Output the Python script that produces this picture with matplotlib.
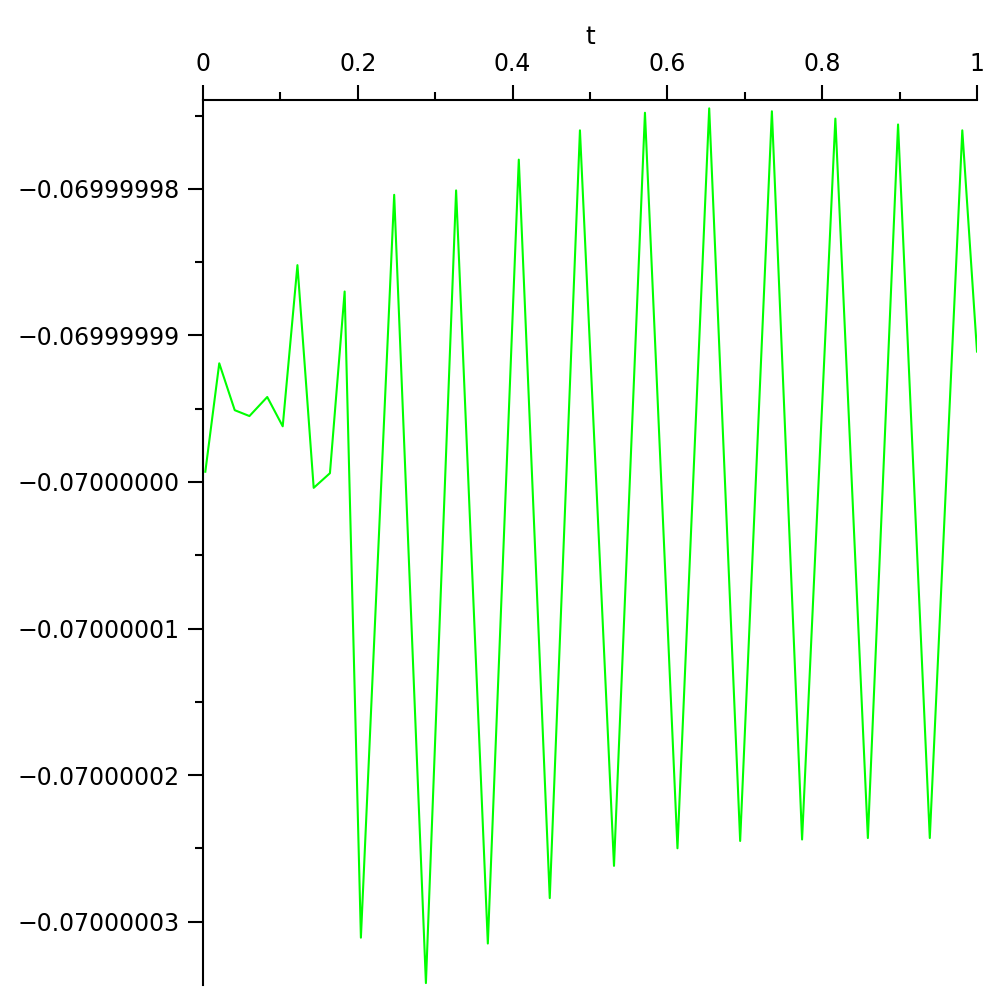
import numpy as np
import matplotlib
matplotlib.use('Agg')
import matplotlib.pyplot as plt

plt.rcParams['font.family'] = ['DejaVu Sans']

# extrema of the curve; dev is in units of 1e-8 around -0.07
t = [0.003, 0.021, 0.041, 0.060, 0.083, 0.103, 0.122, 0.143, 0.164, 0.183,
     0.204, 0.247, 0.288, 0.327, 0.368, 0.408, 0.448, 0.487, 0.531, 0.571,
     0.613, 0.654, 0.694, 0.735, 0.774, 0.817, 0.859, 0.898, 0.939, 0.981, 1.0]
dev = [0.07, 0.81, 0.49, 0.45, 0.58, 0.38, 1.48, -0.04, 0.06, 1.30,
       -3.11, 1.96, -3.42, 1.99, -3.15, 2.20, -2.84, 2.40, -2.62, 2.52,
       -2.50, 2.55, -2.45, 2.53, -2.44, 2.48, -2.43, 2.44, -2.43, 2.40, 0.89]
base = -0.07
scale = 1e-8

ytick_steps = [-3, -2, -1, 0, 1, 2]
ytick_labels = ['\u22120.07000003', '\u22120.07000002', '\u22120.07000001',
                '\u22120.07000000', '\u22120.06999999', '\u22120.06999998']
xtick_vals = [0, 0.2, 0.4, 0.6, 0.8, 1]
xtick_labels = ['0', '0.2', '0.4', '0.6', '0.8', '1']

y = base + np.array(dev) * scale

fig = plt.figure(figsize=(10, 10), dpi=100)
ax = fig.add_axes([0.203, 0.015, 0.774, 0.885])
ax.plot(t, y, color='#00ff00', linewidth=1.5)

ax.set_xlim(0, 1)
ax.set_ylim(base - 3.433 * scale, base + 2.607 * scale)

for s in ['right', 'bottom']:
    ax.spines[s].set_visible(False)
for s in ['left', 'top']:
    ax.spines[s].set_linewidth(1.5)

ax.xaxis.tick_top()
ax.xaxis.set_label_position('top')
ax.set_xticks(xtick_vals)
ax.set_xticklabels(xtick_labels)
ax.set_xticks(np.arange(0.1, 1.0, 0.2), minor=True)
ax.set_xlabel('t', fontsize=18, labelpad=6)

ax.set_yticks([base + k * scale for k in ytick_steps])
ax.set_yticklabels(ytick_labels)
ax.set_yticks([base + (k + 0.5) * scale for k in [-3, -2, -1, 0, 1, 2]], minor=True)

ax.tick_params(axis='both', which='major', direction='out', length=11, width=1.5,
               labelsize=17, pad=6)
ax.tick_params(axis='both', which='minor', direction='out', length=6, width=1.5)

plt.savefig('out.png', dpi=100)
